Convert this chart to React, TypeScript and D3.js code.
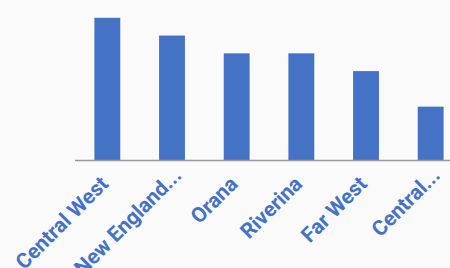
import React from "react";
import * as d3 from "d3";

const categories = ["Central West", "New England...", "Orana", "Riverina", "Far West", "Central..."];
const values = [8, 7, 6, 6, 5, 3];

const W = 450;
const H = 268;
const BLUE = "#4472C4";

export default function App() {
  const x = d3.scaleBand<string>().domain(categories).range([75, 463]).paddingInner(0.6).paddingOuter(0.3);
  const y = d3.scaleLinear().domain([0, 9]).range([160, 0]);
  return (
    <div style={{ position: "fixed", left: 0, top: 0, width: W, height: H, background: "#fafafa" }}>
      <svg width={W} height={H} style={{ display: "block" }}>
        <rect x={0} y={0} width={W} height={H} fill="#fafafa" />
        {categories.map((c, i) => (
          <rect key={c} x={x(c)!} y={y(values[i])} width={x.bandwidth()} height={y(0) - y(values[i])} fill={BLUE} />
        ))}
        <line x1={75} x2={W} y1={y(0) + 0.5} y2={y(0) + 0.5} stroke="#999" strokeWidth={1.5} />
        {categories.map((c) => {
          const cx = x(c)! + x.bandwidth() / 2 - 3;
          const cy = 180;
          const shift = c.endsWith("...") ? 12 : 0;
          return (
            <text
              key={c}
              transform={`translate(${cx},${cy}) rotate(-45)`}
              textAnchor="end"
              fontFamily="Roboto, sans-serif"
              fontWeight={700}
              fontSize={21}
              fill={BLUE}
              dx={shift}
              dy="0.35em"
            >
              {c}
            </text>
          );
        })}
      </svg>
    </div>
  );
}
